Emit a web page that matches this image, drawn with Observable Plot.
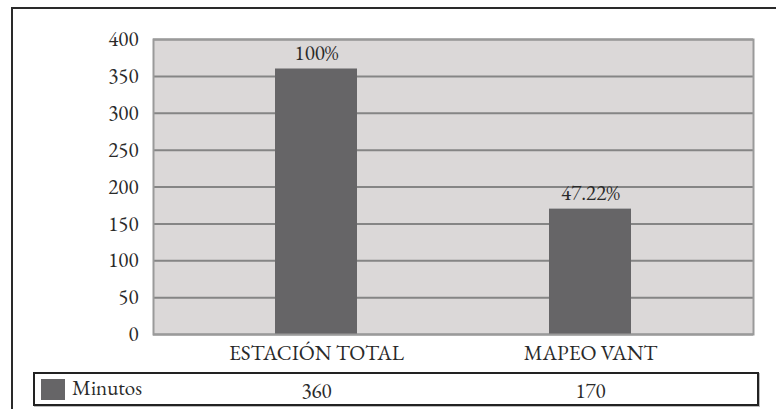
<!DOCTYPE html>
<html>
<head>
<meta charset="utf-8">
<script src="https://cdn.jsdelivr.net/npm/d3@7"></script>
<script src="https://cdn.jsdelivr.net/npm/@observablehq/plot@0.6"></script>
<style>
  html, body { margin: 0; padding: 0; background: #fff; overflow: hidden; }
  #wrap { position: relative; width: 776px; height: 409px; font-family: 'EB Garamond', 'Liberation Serif', serif; font-variant-numeric: lining-nums; }
  #outer { position: absolute; left: 11px; top: 7px; width: 820px; height: 520px; border: 2px solid #2a2a2a; box-sizing: border-box; pointer-events: none; }
  #table { position: absolute; left: 33px; top: 372px; width: 726px; height: 34px; border: 2px solid #222; box-sizing: border-box; box-shadow: 1px 1px 0 #bbb; }
  #swatch { position: absolute; left: 41px; top: 379px; width: 24px; height: 21px; background: #666567; }
  #series { position: absolute; left: 72px; top: 377px; font-size: 21px; line-height: 22px; color: #2a2a2a; }
  #chart { position: absolute; left: 0; top: 0; }
  #chart svg text { font-family: 'EB Garamond', 'Liberation Serif', serif; font-variant-numeric: lining-nums; }
</style>
</head>
<body>
<div id="wrap">
  <div id="outer"></div>
  <div id="table"></div>
  <div id="swatch"></div>
  <div id="series"></div>
  <div id="chart"></div>
</div>
<script>
const categories = ["ESTACIÓN TOTAL", "MAPEO VANT"];
const minutos = [360, 170];
const percentLabels = ["100%", "47.22%"];
const yTicks = [0, 50, 100, 150, 200, 250, 300, 350, 400];
const seriesName = "Minutos";

const data = categories.map((c, i) => ({cat: c, value: minutos[i], pct: percentLabels[i]}));
document.getElementById("series").textContent = seriesName;

const font = "'EB Garamond', 'Liberation Serif', serif";
const fs = 21;
const chart = Plot.plot({
  width: 776,
  height: 409,
  marginLeft: 153,
  marginRight: 23,
  marginTop: 39,
  marginBottom: 75,
  style: {fontFamily: font, fontSize: fs + "px", color: "#2a2a2a", background: "transparent", overflow: "visible"},
  x: {domain: categories, range: [179, 727], paddingInner: 0.7, paddingOuter: 0.35, label: null},
  y: {domain: [0, 400], ticks: yTicks, label: null},
  marks: [
    Plot.frame({fill: "#dbd8d8"}),
    Plot.ruleY(yTicks, {stroke: "#858585", strokeWidth: 2}),
    Plot.barY(data, {x: "cat", y: "value", fill: "#666567"}),
    Plot.frame({stroke: "#9a9a9a", strokeWidth: 2}),
    Plot.text(data, {x: "cat", y: "value", text: "pct", dy: -9, lineAnchor: "bottom", fill: "#2a2a2a", fontSize: fs}),
    Plot.text(data, {x: "cat", y: 0, text: d => String(d.value), dy: 57, lineAnchor: "middle", fill: "#2a2a2a", fontSize: fs}),
    Plot.axisY({ticks: yTicks, tickSize: 0, tickPadding: 15, label: null, fontSize: fs}),
    Plot.axisX({tickSize: 0, tickPadding: 11, label: null, fontSize: fs})
  ]
});
document.getElementById("chart").appendChild(chart);
</script>
</body>
</html>
